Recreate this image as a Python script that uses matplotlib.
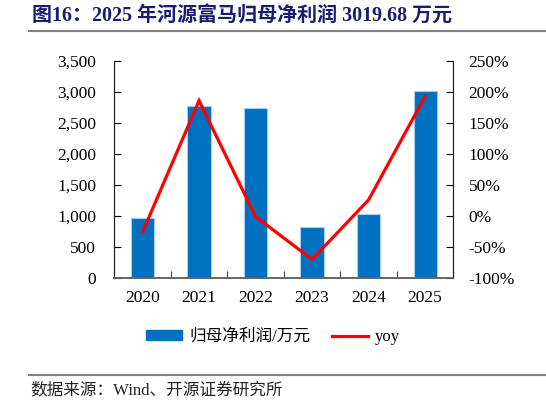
import matplotlib.pyplot as plt
from matplotlib.lines import Line2D
from matplotlib.ticker import FuncFormatter, FixedLocator
import numpy as np

plt.rcParams['font.family'] = ['Liberation Serif', 'Noto Sans CJK SC']

# --- data
years = ['2020', '2021', '2022', '2023', '2024', '2025']
profit = [967, 2776, 2749, 815, 1032, 3019.68]   # 万元
yoy = [-26, 186, -1, -70, 26, 193]               # %

fig = plt.figure(figsize=(5.46, 4.04), dpi=100)
ax = fig.add_axes([0.2093, 0.3119, 0.6210, 0.5371])
ax2 = ax.twinx()

x = np.arange(len(years)) + 0.5
ax.bar(x, profit, width=0.41, color='#0070C0', edgecolor='#A9CCEB',
       linewidth=0.8, zorder=2)
ax2.plot(x, yoy, color='#FF0000', lw=2.3, solid_joinstyle='miter', zorder=3)

ax.set_xlim(0, 6)
ax.set_ylim(0, 3500)
ax.set_yticks(range(0, 3501, 500))
ax.yaxis.set_major_formatter(FuncFormatter(lambda v, p: f'{int(v):,}'))
ax2.set_ylim(-100, 250)
ax2.set_yticks(range(-100, 251, 50))
ax2.yaxis.set_major_formatter(FuncFormatter(lambda v, p: f'{int(v)}%'))

ax.xaxis.set_major_locator(FixedLocator(list(range(0, 7))))
ax.xaxis.set_major_formatter(FuncFormatter(lambda v, p: ''))
ax.xaxis.set_minor_locator(FixedLocator(list(x)))
ax.set_xticklabels(years, minor=True)
ax.tick_params(axis='x', which='major', direction='in', length=5,
               color='#404040')
ax.tick_params(axis='x', which='minor', length=0, pad=9, labelsize=12.5)
ax.tick_params(axis='y', direction='in', length=5, labelsize=12.5, pad=13)
ax2.tick_params(axis='y', direction='in', length=5, labelsize=12.5, pad=11)

for a in (ax, ax2):
    a.spines['top'].set_visible(False)
    for s in ('left', 'right'):
        a.spines[s].set_color('#222222')
    a.spines['bottom'].set_color('#666666')
    a.spines['bottom'].set_linewidth(1.2)

handles = [plt.Rectangle((0, 0), 1, 1, color='#0070C0'),
           Line2D([], [], color='#FF0000', lw=2.3)]
fig.legend(handles, ['归母净利润/万元', 'yoy'], loc='center',
           bbox_to_anchor=(0.5, 1 - 337 / 404), ncol=2, frameon=False,
           fontsize=12, handlelength=2.2, handleheight=0.5,
           columnspacing=1.3, handletextpad=0.4)

fig.text(32 / 546, 1 - 17 / 404, '图16：2025 年河源富马归母净利润 3019.68 万元',
         fontsize=14.4, fontweight='bold', color='#1C1C6E', va='center')
fig.add_artist(Line2D([29 / 546, 1], [1 - 31 / 404] * 2, color='#808080',
                      lw=1.5))
fig.add_artist(Line2D([29 / 546, 1], [1 - 375 / 404] * 2, color='#808080',
                      lw=1.5))
fig.text(30 / 546, 1 - 390 / 404, '数据来源：Wind、开源证券研究所',
         fontsize=12, color='#222222', va='center')

fig.savefig('out.png', dpi=100)
